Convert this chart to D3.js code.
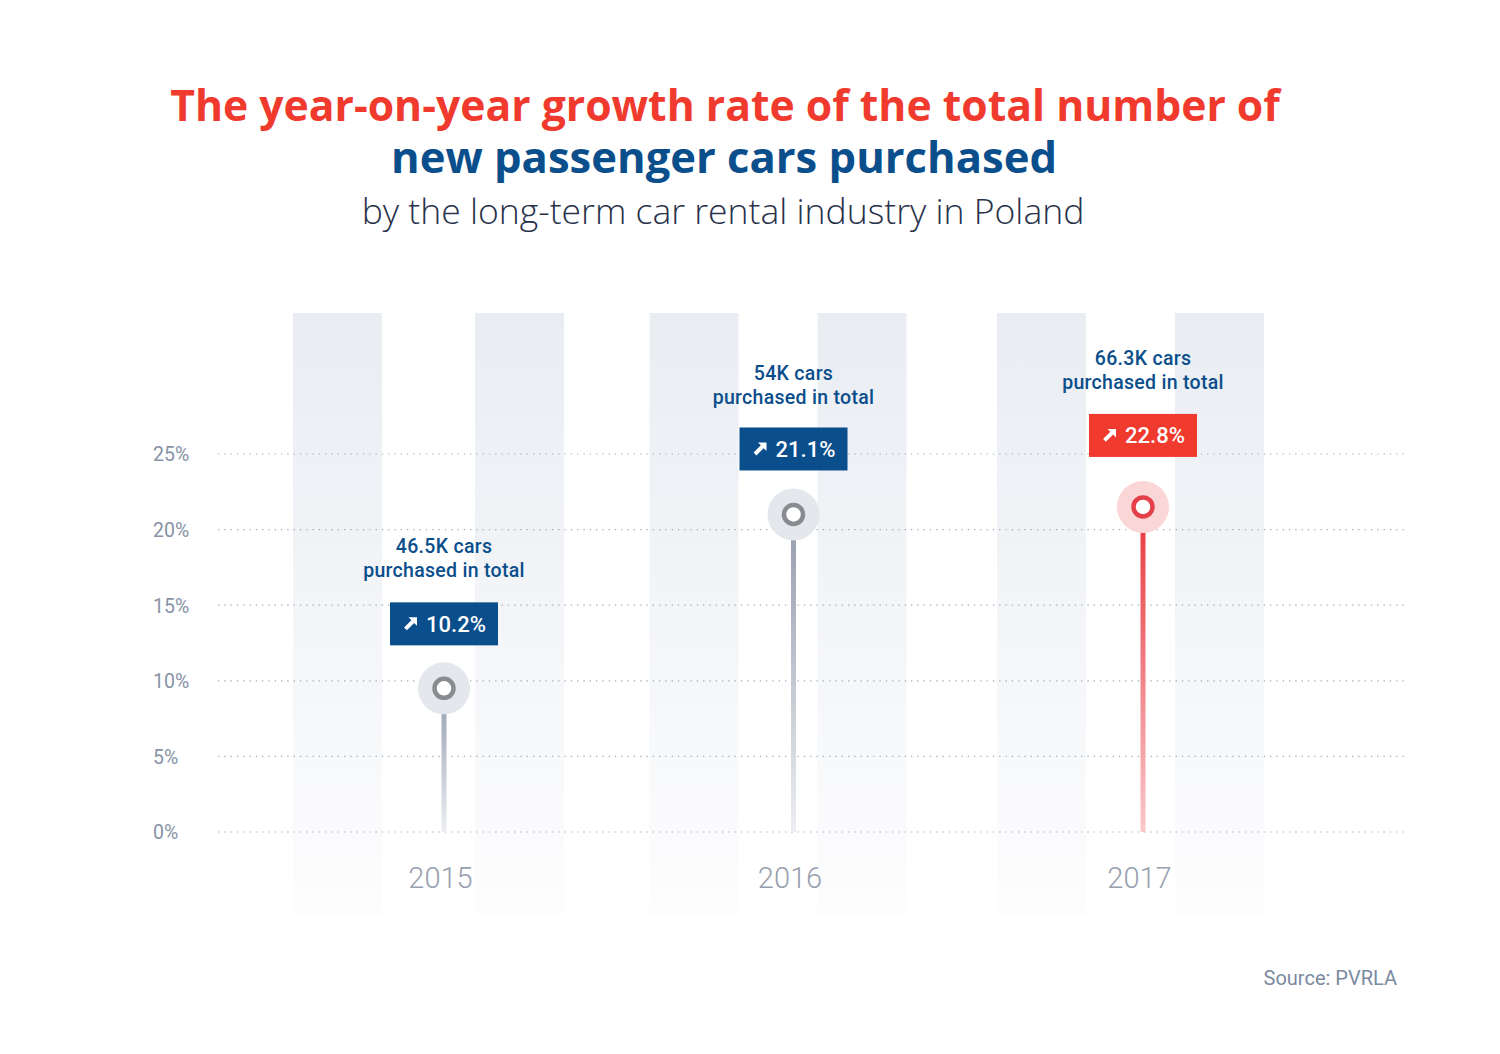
<!DOCTYPE html>
<html><head><meta charset="utf-8">
<script src="https://cdn.jsdelivr.net/npm/d3@7/dist/d3.min.js"></script>
<style>body{margin:0;background:#fff}svg{display:block}</style>
</head><body>
<svg id="c" width="1500" height="1054"></svg>
<script>
const years = ["2015", "2016", "2017"];
const growth = [10.2, 21.1, 22.8];          // labelled growth rate, %
const markerLevel = [9.5, 21.0, 21.5];      // marker height as drawn in the picture, %
const totals = ["46.5K cars", "54K cars", "66.3K cars"];
const yTicks = [0, 5, 10, 15, 20, 25];
const highlight = [false, false, true];

const W = 1500, H = 1054;
const svg = d3.select("#c");
const defs = svg.append("defs");

const x = d3.scalePoint().domain(years).range([444, 1143]);
const y = d3.scaleLinear().domain([0, 25]).range([832, 454]);

const BLUE = "#0a4e8c", RED = "#f03a2e";

// gradients
const bg = defs.append("linearGradient").attr("id", "bg").attr("x1", 0).attr("y1", 0).attr("x2", 0).attr("y2", 1);
bg.append("stop").attr("offset", 0).attr("stop-color", "#e9edf2");
bg.append("stop").attr("offset", 1).attr("stop-color", "#fdfdfe");
const sg = defs.append("linearGradient").attr("id", "stemGray").attr("x1", 0).attr("y1", 0).attr("x2", 0).attr("y2", 1);
sg.append("stop").attr("offset", 0).attr("stop-color", "#939cad");
sg.append("stop").attr("offset", 1).attr("stop-color", "#eceef2");
const sr = defs.append("linearGradient").attr("id", "stemRed").attr("x1", 0).attr("y1", 0).attr("x2", 0).attr("y2", 1);
sr.append("stop").attr("offset", 0).attr("stop-color", "#e8353c");
sr.append("stop").attr("offset", 1).attr("stop-color", "#f9c8cb");

// background columns
const bgTop = 313, bgBot = 915, bw = 89;
const bgOff = [[-151, 31], [-144, 24], [-146, 32]];
years.forEach((yr, i) => {
  bgOff[i].forEach(o => {
    svg.append("rect").attr("x", x(yr) + o).attr("y", bgTop).attr("width", bw)
      .attr("height", bgBot - bgTop).attr("fill", "url(#bg)");
  });
});

// gridlines
const grid = svg.append("g");
grid.selectAll("line").data(yTicks).join("line")
  .attr("x1", 218).attr("x2", 1408)
  .attr("y1", d => y(d)).attr("y2", d => y(d))
  .attr("stroke", "#a3a9b3").attr("stroke-width", 1.2)
  .attr("stroke-dasharray", "1.3,5");

// y axis labels
const yAxis = d3.axisLeft(y).tickValues(yTicks).tickFormat(d => d + "%").tickSize(0).tickPadding(0);
const ya = svg.append("g").attr("transform", "translate(153,0)").call(yAxis);
ya.select(".domain").remove();
ya.selectAll("text").attr("text-anchor", "start").attr("x", 0).attr("dy", "0.35em")
  .attr("font-family", "Roboto").attr("font-size", 19.5).attr("fill", "#8793a6");

// x axis labels
const xAxis = d3.axisBottom(x).tickSize(0).tickPadding(0);
const xa = svg.append("g").attr("transform", "translate(-4,878)").call(xAxis);
xa.select(".domain").remove();
xa.selectAll("text").attr("dy", "0.35em").attr("y", 0)
  .attr("font-family", "Roboto").attr("font-weight", 300).attr("font-size", 29).attr("fill", "#97a0ae");

// per-year label offsets as laid out in the picture
const boxGap = [43, 44, 50];
const textGap = [32, 30, 32];

// stems & markers
years.forEach((yr, i) => {
  const cx = x(yr), cy = y(markerLevel[i]);
  const hl = highlight[i];
  svg.append("rect").attr("x", cx - 2.5).attr("y", cy).attr("width", 5).attr("height", y(0) - cy)
    .attr("fill", hl ? "url(#stemRed)" : "url(#stemGray)");
  svg.append("circle").attr("cx", cx).attr("cy", cy).attr("r", 26)
    .attr("fill", hl ? "#fbd6d6" : "#e4e7eb");
  svg.append("circle").attr("cx", cx).attr("cy", cy).attr("r", 9.5)
    .attr("fill", "#fff").attr("stroke", hl ? "#e3404a" : "#888b8f").attr("stroke-width", 4.5);

  // label box
  const bh = 43, bwid = 108;
  const by = cy - boxGap[i] - bh;
  const g = svg.append("g").attr("transform", `translate(${cx},${by})`);
  g.append("rect").attr("x", -bwid / 2).attr("y", 0).attr("width", bwid).attr("height", bh)
    .attr("fill", hl ? RED : BLUE);
  // arrow icon
  g.append("path").attr("transform", `translate(-33.5,${bh / 2})`)
    .attr("d", "M-6.4,3.6 L0.85,-3.65 L-2,-6.5 L6.5,-6.5 L6.5,2 L3.65,-0.85 L-3.6,6.4 Z")
    .attr("fill", "#fff");
  g.append("text").attr("x", 12).attr("y", bh / 2).attr("dy", "0.36em").attr("text-anchor", "middle")
    .attr("font-family", "Roboto").attr("font-weight", 500).attr("font-size", 22).attr("fill", "#fff")
    .text(growth[i] + "%");

  // total text
  const t = svg.append("text").attr("text-anchor", "middle")
    .attr("font-family", "Roboto").attr("font-weight", 500).attr("font-size", 19.5)
    .attr("letter-spacing", 0.3).attr("fill", BLUE);
  t.append("tspan").attr("x", cx).attr("y", by - textGap[i] - 17).text(totals[i]);
  t.append("tspan").attr("x", cx).attr("y", by - textGap[i] + 7).text("purchased in total");
});

// titles
function fit(sel, target) {
  const w = sel.node().getComputedTextLength();
  const fs = parseFloat(sel.attr("font-size"));
  sel.attr("font-size", fs * target / w);
}
const t1 = svg.append("text").attr("x", 725).attr("y", 121).attr("text-anchor", "middle")
  .attr("font-family", "Open Sans").attr("font-weight", 700).attr("font-size", 44).attr("fill", RED)
  .text("The year-on-year growth rate of the total number of");
fit(t1, 1110);
const t2 = svg.append("text").attr("x", 724).attr("y", 173).attr("text-anchor", "middle")
  .attr("font-family", "Open Sans").attr("font-weight", 700).attr("font-size", 44).attr("fill", BLUE)
  .text("new passenger cars purchased");
fit(t2, 666);
const t3 = svg.append("text").attr("x", 723).attr("y", 224).attr("text-anchor", "middle")
  .attr("font-family", "Open Sans").attr("font-weight", 300).attr("font-size", 34).attr("fill", "#28324a")
  .text("by the long-term car rental industry in Poland");
fit(t3, 723);

svg.append("text").attr("x", 1397).attr("y", 985).attr("text-anchor", "end")
  .attr("font-family", "Roboto").attr("font-size", 20).attr("fill", "#7a8aa0")
  .text("Source: PVRLA");
</script>
</body></html>
